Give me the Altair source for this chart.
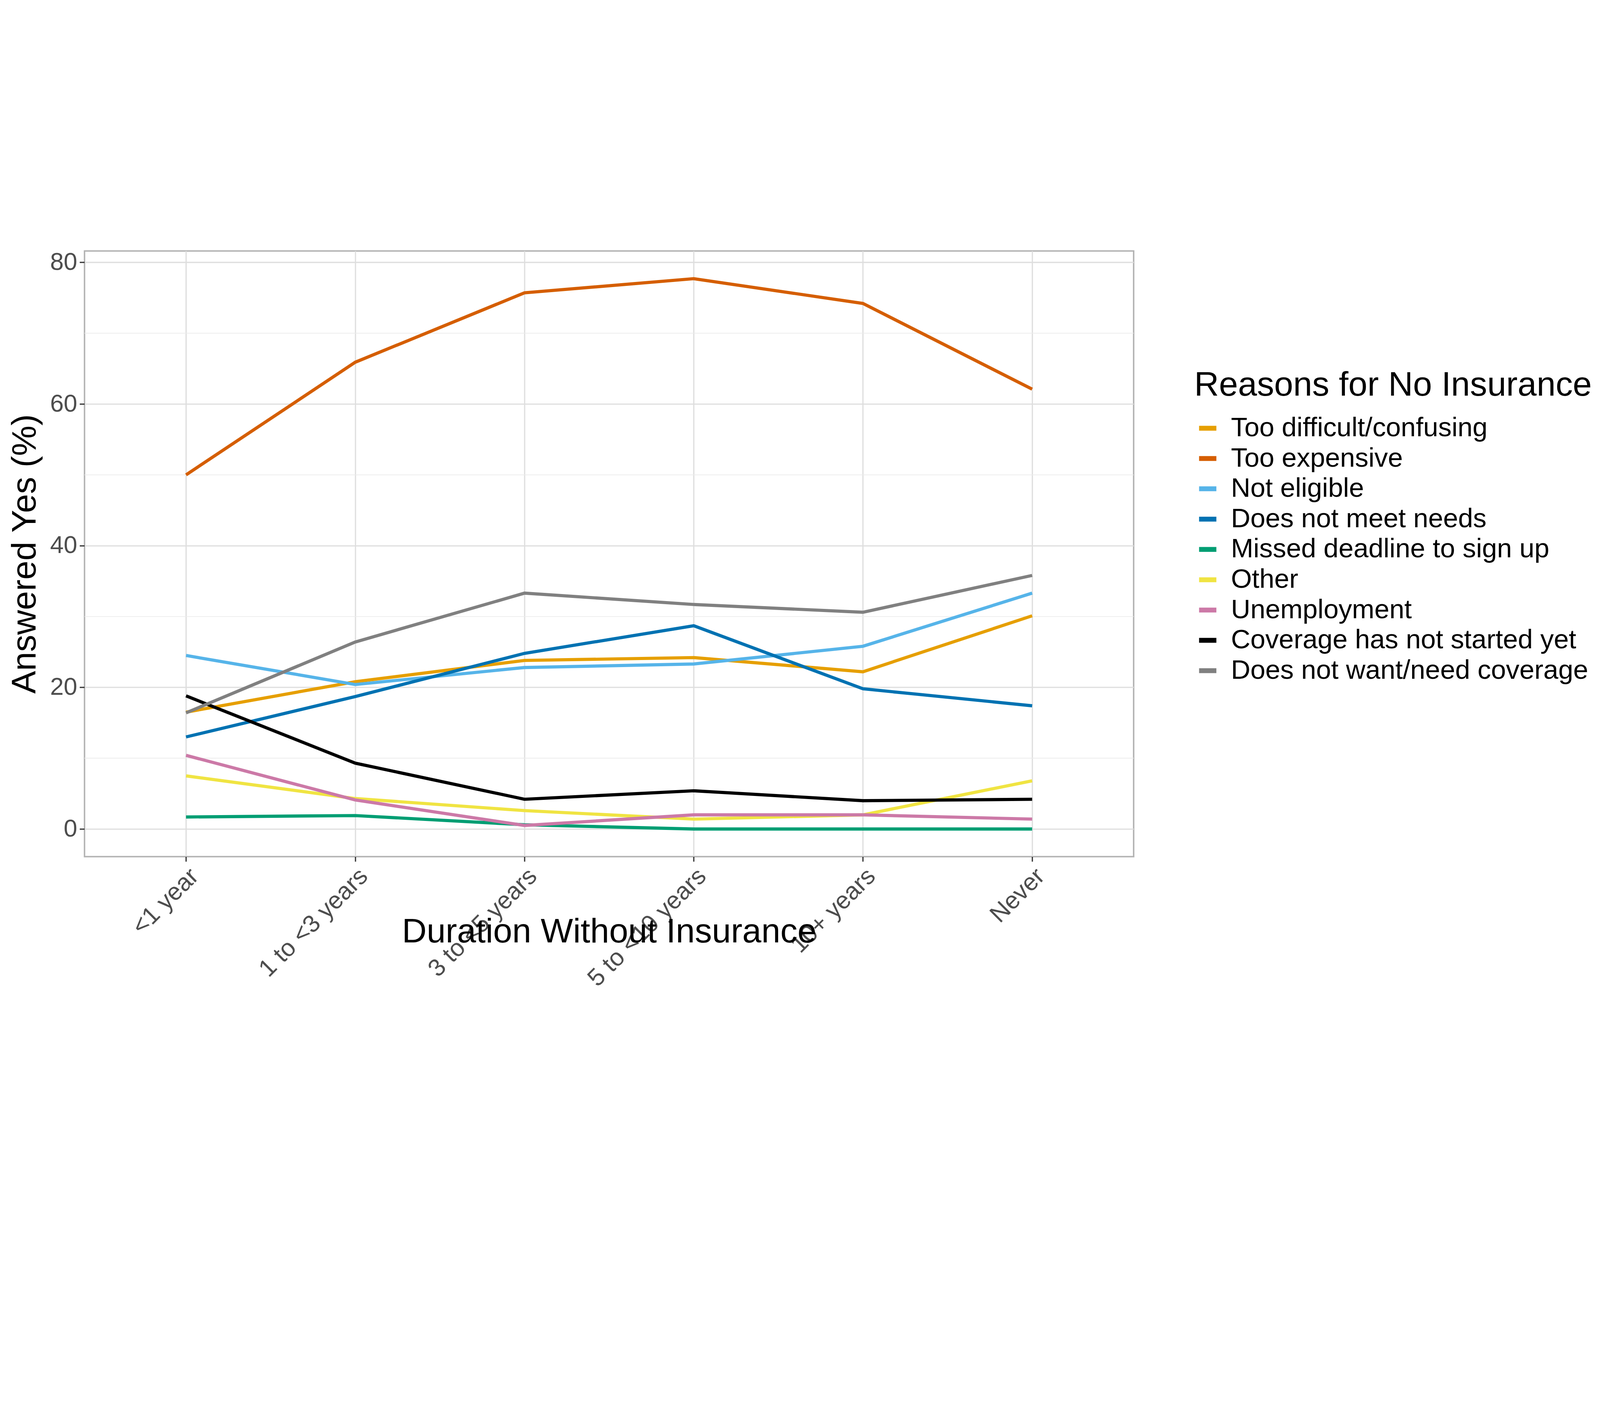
import pandas as pd
import altair as alt

durations = ["<1 year", "1 to <3 years", "3 to <5 years", "5 to <10 years", "10+ years", "Never"]
reasons = ["Too difficult/confusing", "Too expensive", "Not eligible", "Does not meet needs",
           "Missed deadline to sign up", "Other", "Unemployment",
           "Coverage has not started yet", "Does not want/need coverage"]
colors = ["#E69F00", "#D55E00", "#56B4E9", "#0072B2", "#009E73", "#F0E442", "#CC79A7", "#000000", "#808080"]

too_difficult = [16.5, 20.8, 23.8, 24.2, 22.2, 30.1]
too_expensive = [50.0, 65.9, 75.7, 77.7, 74.2, 62.1]
not_eligible = [24.5, 20.4, 22.8, 23.3, 25.8, 33.3]
not_meet_needs = [13.0, 18.7, 24.8, 28.7, 19.8, 17.4]
missed_deadline = [1.7, 1.9, 0.6, 0.0, 0.0, 0.0]
other = [7.5, 4.3, 2.6, 1.4, 2.0, 6.8]
unemployment = [10.4, 4.1, 0.5, 2.0, 2.0, 1.4]
not_started = [18.8, 9.3, 4.2, 5.4, 4.0, 4.2]
not_want = [16.4, 26.4, 33.3, 31.7, 30.6, 35.8]
series = [too_difficult, too_expensive, not_eligible, not_meet_needs, missed_deadline,
          other, unemployment, not_started, not_want]

minor_grid = [10, 30, 50, 70]

rows = []
for r, vals in zip(reasons, series):
    for d, v in zip(durations, vals):
        rows.append({"duration": d, "reason": r, "pct": v})
df = pd.DataFrame(rows)

font = "Liberation Sans"
yscale = alt.Scale(domain=[-3.9, 81.6], nice=False, zero=False)

minor = alt.Chart(pd.DataFrame({"v": minor_grid})).mark_rule(
    color="#EBEBEB", strokeWidth=3
).encode(y=alt.Y("v:Q", scale=yscale))

lines = alt.Chart(df).mark_line(strokeWidth=13).encode(
    x=alt.X("duration:O", sort=durations, scale=alt.Scale(type="point", padding=0.6),
            title="Duration Without Insurance",
            axis=alt.Axis(labelAngle=-45, labelAlign="right", labelBaseline="top",
                          labelFontSize=100, labelColor="#4D4D4D", titleFontSize=140,
                          titleColor="black", titleFontWeight="normal", titlePadding=40,
                          grid=True, gridColor="#DEDEDE", gridWidth=5, domain=False,
                          tickColor="#333333", tickSize=20, tickWidth=5, labelPadding=10,
                          labelLimit=3000)),
    y=alt.Y("pct:Q", scale=yscale, title="Answered Yes (%)",
            axis=alt.Axis(values=[0, 20, 40, 60, 80], labelFontSize=100, labelColor="#4D4D4D",
                          titleFontSize=140, titleColor="black", titleFontWeight="normal",
                          titlePadding=30, grid=True, gridColor="#DEDEDE", gridWidth=5,
                          domain=False, tickColor="#333333", tickSize=20, tickWidth=5,
                          labelPadding=10)),
    color=alt.Color("reason:N", sort=reasons,
                    scale=alt.Scale(domain=reasons, range=colors),
                    legend=alt.Legend(title="Reasons for No Insurance", symbolType="stroke",
                                      symbolStrokeWidth=20, symbolSize=5000,
                                      titleFontSize=140, titleFontWeight="normal",
                                      titleColor="black", labelFontSize=110, labelColor="black",
                                      rowPadding=14, titlePadding=50, orient="none",
                                      legendX=4540, legendY=480, titleLimit=4000,
                                      padding=0, labelLimit=3000, labelOffset=40)),
    detail="reason:N",
)

chart = (minor + lines).properties(
    width=4292, height=2478, padding={"left": 20, "top": 75, "right": 20, "bottom": 20}
).configure(font=font).configure_view(stroke="#B3B3B3", strokeWidth=6)

chart.save("out.html", embed_options={"renderer": "svg", "actions": False})
